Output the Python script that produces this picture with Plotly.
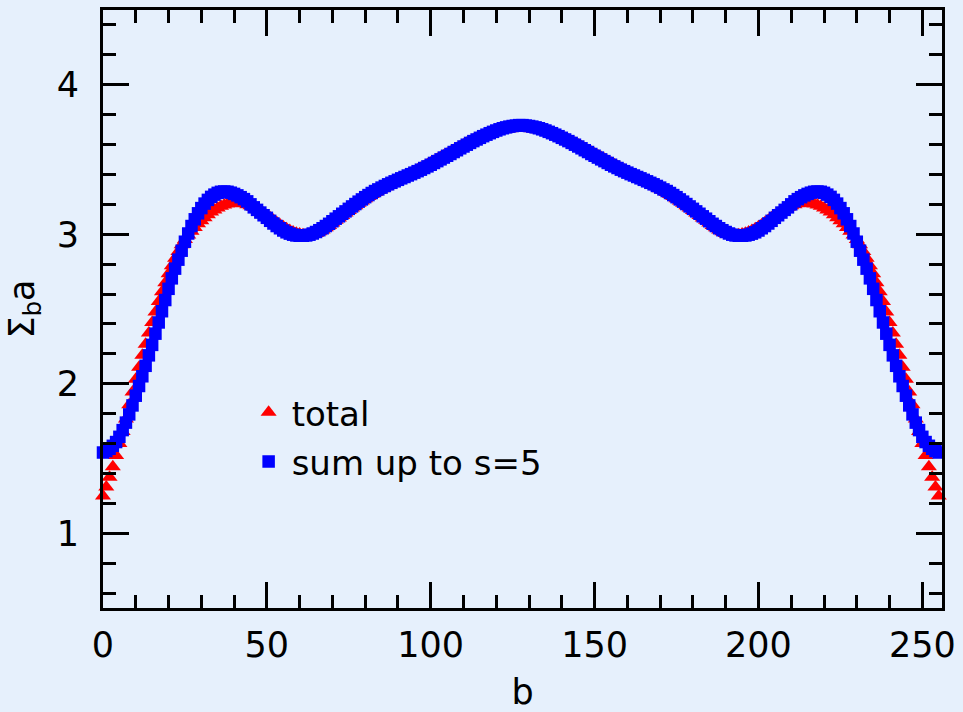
import plotly.graph_objects as go

b_values = list(range(256))

total_values = [
    1.25, 1.31, 1.375, 1.445, 1.52, 1.60, 1.68, 1.765, 1.86, 1.945,
    2.03, 2.11, 2.19, 2.265, 2.34, 2.41, 2.48, 2.55, 2.615, 2.675,
    2.735, 2.79, 2.84, 2.885, 2.93, 2.965, 2.995, 3.02, 3.045, 3.07,
    3.09, 3.11, 3.13, 3.148, 3.163, 3.176, 3.187, 3.196, 3.203, 3.207,
    3.21, 3.21, 3.208, 3.204, 3.198, 3.19, 3.18, 3.168, 3.155, 3.14,
    3.125, 3.11, 3.094, 3.079, 3.064, 3.05, 3.037, 3.025, 3.015, 3.007,
    3.001, 2.997, 2.994, 2.994, 2.998, 3.005, 3.016, 3.029, 3.044, 3.059,
    3.076, 3.093, 3.109, 3.126, 3.142, 3.159, 3.175, 3.191, 3.207, 3.222,
    3.237, 3.252, 3.266, 3.28, 3.292, 3.305, 3.317, 3.329, 3.34, 3.351,
    3.362, 3.373, 3.384, 3.395, 3.406, 3.417, 3.429, 3.441, 3.453, 3.465,
    3.477, 3.489, 3.501, 3.513, 3.525, 3.537, 3.549, 3.561, 3.573, 3.585,
    3.597, 3.608, 3.619, 3.63, 3.64, 3.65, 3.659, 3.667, 3.675, 3.682,
    3.688, 3.694, 3.699, 3.703, 3.706, 3.709, 3.711, 3.712,
    3.712, 3.711, 3.709, 3.706, 3.703, 3.699, 3.694, 3.688,
    3.682, 3.675, 3.667, 3.659, 3.65, 3.64, 3.63, 3.619, 3.608, 3.597,
    3.585, 3.573, 3.561, 3.549, 3.537, 3.525, 3.513, 3.501, 3.489, 3.477,
    3.465, 3.453, 3.441, 3.429, 3.417, 3.406, 3.395, 3.384, 3.373, 3.362,
    3.351, 3.34, 3.329, 3.317, 3.305, 3.292, 3.28, 3.266, 3.252, 3.237,
    3.222, 3.207, 3.191, 3.175, 3.159, 3.142, 3.126, 3.109, 3.093, 3.076,
    3.059, 3.044, 3.029, 3.016, 3.005, 2.998, 2.994, 2.994, 2.997, 3.001,
    3.007, 3.015, 3.025, 3.037, 3.05, 3.064, 3.079, 3.094, 3.11, 3.125,
    3.14, 3.155, 3.168, 3.18, 3.19, 3.198, 3.204, 3.208, 3.21, 3.21,
    3.207, 3.203, 3.196, 3.187, 3.176, 3.163, 3.148, 3.13, 3.11, 3.09,
    3.07, 3.045, 3.02, 2.995, 2.965, 2.93, 2.885, 2.84, 2.79, 2.735,
    2.675, 2.615, 2.55, 2.48, 2.41, 2.34, 2.265, 2.19, 2.11, 2.03,
    1.945, 1.86, 1.765, 1.68, 1.60, 1.52, 1.445, 1.375, 1.31, 1.25,
]

sum_s5_values = [
    1.54, 1.55, 1.565, 1.585, 1.61, 1.645, 1.69, 1.74, 1.795, 1.855,
    1.92, 1.985, 2.05, 2.12, 2.19, 2.26, 2.335, 2.41, 2.485, 2.56,
    2.635, 2.705, 2.77, 2.83, 2.89, 2.95, 3.005, 3.055, 3.10, 3.14,
    3.175, 3.205, 3.23, 3.25, 3.265, 3.277, 3.284, 3.286, 3.284, 3.278,
    3.27, 3.26, 3.248, 3.235, 3.22, 3.20, 3.18, 3.163, 3.145, 3.127,
    3.11, 3.09, 3.072, 3.055, 3.04, 3.025, 3.013, 3.004, 2.997, 2.992,
    2.99, 2.99, 2.992, 2.997, 3.005, 3.015, 3.027, 3.04, 3.055, 3.07,
    3.087, 3.104, 3.12, 3.137, 3.153, 3.17, 3.186, 3.202, 3.218, 3.233,
    3.248, 3.262, 3.276, 3.289, 3.30, 3.312, 3.323, 3.334, 3.344, 3.354,
    3.364, 3.374, 3.383, 3.393, 3.402, 3.412, 3.422, 3.432, 3.443, 3.454,
    3.465, 3.477, 3.489, 3.501, 3.513, 3.525, 3.537, 3.55, 3.562, 3.575,
    3.587, 3.599, 3.611, 3.623, 3.634, 3.645, 3.656, 3.666, 3.676, 3.685,
    3.694, 3.702, 3.709, 3.715, 3.72, 3.724, 3.727, 3.73,
    3.73, 3.727, 3.724, 3.72, 3.715, 3.709, 3.702, 3.694,
    3.685, 3.676, 3.666, 3.656, 3.645, 3.634, 3.623, 3.611, 3.599, 3.587,
    3.575, 3.562, 3.55, 3.537, 3.525, 3.513, 3.501, 3.489, 3.477, 3.465,
    3.454, 3.443, 3.432, 3.422, 3.412, 3.402, 3.393, 3.383, 3.374, 3.364,
    3.354, 3.344, 3.334, 3.323, 3.312, 3.30, 3.289, 3.276, 3.262, 3.248,
    3.233, 3.218, 3.202, 3.186, 3.17, 3.153, 3.137, 3.12, 3.104, 3.087,
    3.07, 3.055, 3.04, 3.027, 3.015, 3.005, 2.997, 2.992, 2.99, 2.99,
    2.992, 2.997, 3.004, 3.013, 3.025, 3.04, 3.055, 3.072, 3.09, 3.11,
    3.127, 3.145, 3.163, 3.18, 3.20, 3.22, 3.235, 3.248, 3.26, 3.27,
    3.278, 3.284, 3.286, 3.284, 3.277, 3.265, 3.25, 3.23, 3.205, 3.175,
    3.14, 3.10, 3.055, 3.005, 2.95, 2.89, 2.83, 2.77, 2.705, 2.635,
    2.56, 2.485, 2.41, 2.335, 2.26, 2.19, 2.12, 2.05, 1.985, 1.92,
    1.855, 1.795, 1.74, 1.69, 1.645, 1.61, 1.585, 1.565, 1.55, 1.54,
]

series_names = ["total", "sum up to s=5"]

BG = "#E6F0FC"
FONT = "DejaVu Sans"

fig = go.Figure()
fig.add_trace(go.Scatter(
    x=b_values, y=total_values, mode="markers", name=series_names[0],
    marker=dict(symbol="triangle-up", size=14, color="#FF0000", line=dict(width=0)),
    cliponaxis=False, legendgroup="a",
))
fig.add_trace(go.Scatter(
    x=b_values, y=sum_s5_values, mode="markers", name=series_names[1],
    marker=dict(symbol="square", size=12.5, color="#0000FF", line=dict(width=0)),
    cliponaxis=False, legendgroup="b",
))

axis_common = dict(
    showgrid=False, zeroline=False, showline=True, linecolor="black", linewidth=3,
    mirror="allticks", ticks="inside", ticklen=26, tickwidth=2.5, tickcolor="black",
    tickfont=dict(family=FONT, size=35, color="black"),
)

fig.update_xaxes(
    range=[0, 256], tickmode="linear", tick0=0, dtick=50,
    minor=dict(ticks="inside", ticklen=13, tickwidth=2.5, tickcolor="black", dtick=10, tick0=0, showgrid=False),
    title=dict(text="b", font=dict(family=FONT, size=35, color="black"), standoff=22),
    ticklabelstandoff=4,
    **axis_common,
)
fig.update_yaxes(
    range=[0.5, 4.5], tickmode="linear", tick0=0, dtick=1,
    minor=dict(ticks="inside", ticklen=13, tickwidth=2.5, tickcolor="black", dtick=0.2, tick0=0, showgrid=False),
    title=dict(text="Σ<sub>b</sub>a", font=dict(family=FONT, size=35, color="black"), standoff=12),
    ticklabelstandoff=14,
    **axis_common,
)

fig.update_layout(
    width=963, height=712,
    margin=dict(l=103, r=21, t=10, b=104, autoexpand=False),
    paper_bgcolor=BG, plot_bgcolor=BG,
    showlegend=True,
    legend=dict(
        x=0.17, y=0.375, xanchor="left", yanchor="top",
        bgcolor="rgba(0,0,0,0)", borderwidth=0,
        font=dict(family=FONT, size=34, color="black"),
        tracegroupgap=2, itemsizing="trace", itemwidth=36,
    ),
)

fig.write_html("out.html")
